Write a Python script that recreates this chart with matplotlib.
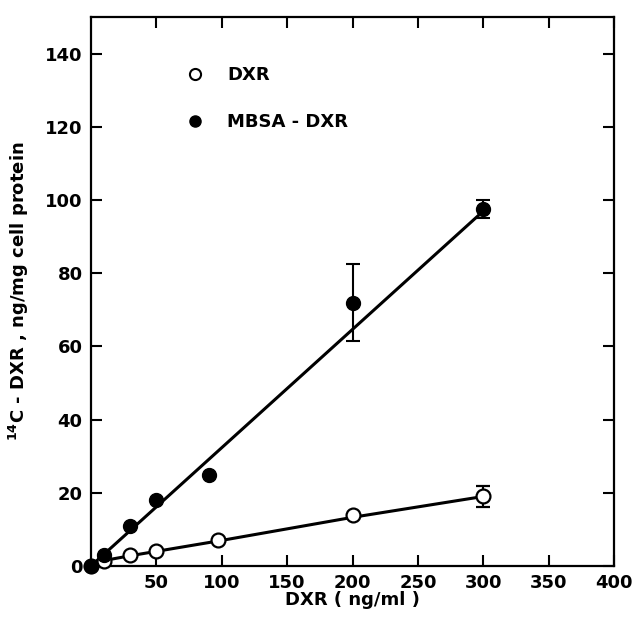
import numpy as np
import matplotlib.pyplot as plt

# measured points
dxr_x = [0, 10, 30, 50, 97, 200, 300]
dxr_y = [0, 1.5, 3, 4, 7, 14, 19]
dxr_err = [0, 0, 0, 0, 0, 0, 2.8]

mbsa_x = [0, 10, 30, 50, 90, 200, 300]
mbsa_y = [0, 3, 11, 18, 25, 72, 97.5]
mbsa_err = [0, 0, 0, 0, 0, 10.5, 2.5]

# drawn fit lines
fit_mbsa_x = [0, 300]
fit_mbsa_y = [0, 97]
fit_dxr_x = [10, 30, 50, 100, 200, 300]
fit_dxr_y = [1.5, 2.8, 4, 7, 13.3, 19]

xticks = [50, 100, 150, 200, 250, 300, 350, 400]
yticks = [0, 20, 40, 60, 80, 100, 120, 140]

plt.rcParams['font.family'] = 'DejaVu Sans'
plt.rcParams['font.weight'] = 'bold'
plt.rcParams['axes.labelweight'] = 'bold'
plt.rcParams['mathtext.default'] = 'bf'

fig = plt.figure(figsize=(6.43, 6.23), dpi=100)
ax = fig.add_axes([0.1415, 0.0915, 0.8135, 0.881])

ax.plot(fit_mbsa_x, fit_mbsa_y, color='black', lw=2.2)
ax.plot(fit_dxr_x, fit_dxr_y, color='black', lw=2.2)

ax.errorbar(dxr_x, dxr_y, yerr=dxr_err, fmt='o', ms=10, mfc='white', mec='black',
            mew=1.6, ecolor='black', elinewidth=1.5, capsize=5, capthick=1.5,
            clip_on=False, zorder=3)
ax.errorbar(mbsa_x, mbsa_y, yerr=mbsa_err, fmt='o', ms=10, mfc='black', mec='black',
            ecolor='black', elinewidth=1.5, capsize=5, capthick=1.5,
            clip_on=False, zorder=4)

ax.plot([], [], 'o', ms=8, mfc='white', mec='black', mew=1.5, label='DXR')
ax.plot([], [], 'o', ms=8, mfc='black', mec='black', label='MBSA - DXR')
ax.legend(loc='upper left', bbox_to_anchor=(0.15, 0.94), frameon=False,
          fontsize=13, handletextpad=1.3, labelspacing=1.6, handlelength=1.0)

ax.set_xlim(0, 400)
ax.set_ylim(0, 150)
ax.set_xticks(xticks)
ax.set_yticks(yticks)
ax.tick_params(direction='in', length=8, width=1.5, top=True, right=True,
               labelsize=13, pad=6)
for s in ax.spines.values():
    s.set_linewidth(1.6)

ax.set_xlabel('DXR ( ng/ml )', fontsize=13)
ax.xaxis.set_label_coords(0.5, -0.045)
ax.set_ylabel('$^{14}$C - DXR , ng/mg cell protein', fontsize=13, labelpad=10)

fig.savefig('out.png', dpi=100)
